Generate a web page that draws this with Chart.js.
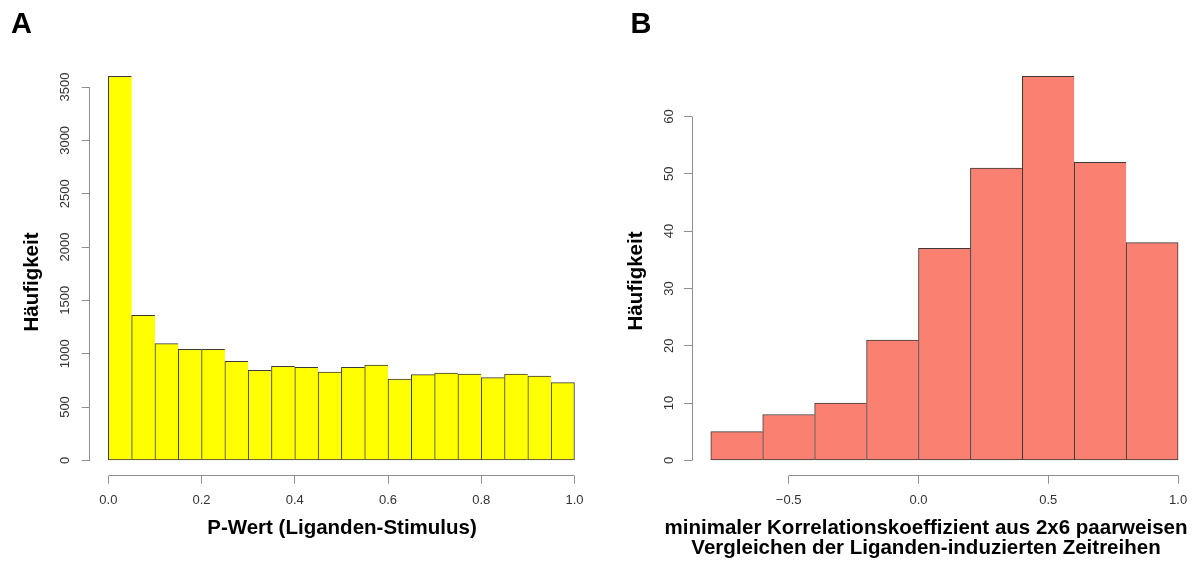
<!DOCTYPE html>
<html>
<head>
<meta charset="utf-8">
<script src="https://cdn.jsdelivr.net/npm/chart.js@4.4.1/dist/chart.umd.min.js"></script>
<style>
  html, body { margin: 0; padding: 0; background: #fff; overflow: hidden; }
  canvas { position: absolute; top: 0; }
</style>
</head>
<body>
<canvas id="chartA" width="600" height="563" style="left:0px"></canvas>
<canvas id="chartB" width="601" height="563" style="left:600px"></canvas>
<script>
// ---------------- DATA ----------------

// A: P-values, bins of width 0.05 (lower edges)
const pBinStarts = [0, 0.05, 0.1, 0.15, 0.2, 0.25, 0.3, 0.35, 0.4, 0.45,
                    0.5, 0.55, 0.6, 0.65, 0.7, 0.75, 0.8, 0.85, 0.9, 0.95];
const pCounts = [3600, 1360, 1095, 1040, 1040, 928, 843, 881, 872, 828,
                 872, 893, 762, 803, 818, 809, 775, 809, 790, 728];
const pXTicks = [0, 0.2, 0.4, 0.6, 0.8, 1.0];
const pYTicks = [0, 500, 1000, 1500, 2000, 2500, 3000, 3500];

// B: minimal correlation coefficients, bins of width 0.2 (lower edges)
const rBinStarts = [-0.8, -0.6, -0.4, -0.2, 0, 0.2, 0.4, 0.6, 0.8];
const rCounts = [5, 8, 10, 21, 37, 51, 67, 52, 38];
const rXTicks = [-0.5, 0, 0.5, 1.0];
const rYTicks = [0, 10, 20, 30, 40, 50, 60];

const FONT = "'Liberation Sans', Arial, Helvetica, sans-serif";
const AXIS_GREY = "#8e8e8e";
const TEXT_GREY = "#333333";

// ---------------- HELPERS ----------------

function fmtX(v) {
  const s = Math.abs(v).toFixed(1);
  return v < 0 ? "\u2212" + s : s;
}

function crisp(p) {
  return Math.round(p - 0.5) + 0.5;
}

// R-style axes: line only from first to last tick, rotated y labels,
// bold titles and the panel letter
const rAxes = {
  id: "rAxes",
  afterDraw(chart, args, o) {
    const c = chart.ctx;
    const xs = chart.scales.x;
    const ys = chart.scales.y;
    const area = chart.chartArea;

    c.save();
    c.strokeStyle = AXIS_GREY;
    c.lineWidth = 1;

    const xa = xs.getPixelForValue(xs.ticks[0].value);
    const xb = xs.getPixelForValue(xs.ticks[xs.ticks.length - 1].value);
    const yBottom = crisp(area.bottom);
    c.beginPath();
    c.moveTo(crisp(xa), yBottom);
    c.lineTo(crisp(xb), yBottom);
    c.stroke();

    const ya = ys.getPixelForValue(ys.ticks[0].value);
    const yb = ys.getPixelForValue(ys.ticks[ys.ticks.length - 1].value);
    const xLeft = crisp(area.left);
    c.beginPath();
    c.moveTo(xLeft, crisp(ya));
    c.lineTo(xLeft, crisp(yb));
    c.stroke();

    // tick labels
    c.fillStyle = TEXT_GREY;
    c.font = "13px " + FONT;
    c.textAlign = "center";
    c.textBaseline = "middle";
    xs.ticks.forEach(t => {
      c.fillText(fmtX(t.value), xs.getPixelForValue(t.value), o.xLabelY);
    });
    ys.ticks.forEach(t => {
      c.save();
      c.translate(area.left - o.yLabelGap, ys.getPixelForValue(t.value));
      c.rotate(-Math.PI / 2);
      c.fillText(String(t.value), 0, 0);
      c.restore();
    });

    // axis titles
    c.fillStyle = "#000";
    c.font = "bold 20.5px " + FONT;
    c.textBaseline = "alphabetic";
    o.xTitle.forEach((line, i) => {
      c.fillText(line, o.xTitleX, o.xTitleY + i * 20);
    });
    c.save();
    c.translate(o.yTitleX, o.yTitleY);
    c.rotate(-Math.PI / 2);
    c.fillText(o.yTitle, 0, 0);
    c.restore();

    // panel letter
    c.font = "bold 29px " + FONT;
    c.textAlign = "left";
    c.fillText(o.letter, o.letterX, 33);
    c.restore();
  }
};

function histChart(id, o) {
  const lo = o.binStarts[0];
  const hi = o.binStarts[o.binStarts.length - 1] + o.binWidth;
  const top = Math.max(...o.counts);
  const xPad = 0.04 * (hi - lo);
  const yPad = 0.04 * top;
  const last = o.counts.length - 1;

  return new Chart(document.getElementById(id), {
    type: "bar",
    data: {
      datasets: [{
        data: o.binStarts.map((b, i) => ({ x: b + o.binWidth / 2, y: o.counts[i] })),
        backgroundColor: o.fill,
        borderColor: "#3a3a3a",
        borderWidth: ctx => ({ top: 1, left: 1, bottom: 1, right: ctx.dataIndex === last ? 1 : 0 }),
        borderSkipped: false,
        barPercentage: 1,
        categoryPercentage: 1
      }]
    },
    options: {
      responsive: false,
      animation: false,
      events: [],
      layout: { padding: { top: 61, right: o.rightPad, left: 0, bottom: 0 } },
      plugins: {
        legend: { display: false },
        tooltip: { enabled: false },
        rAxes: o.axes
      },
      scales: {
        x: {
          type: "linear",
          min: lo - xPad,
          max: hi + xPad,
          offset: false,
          afterBuildTicks: s => { s.ticks = o.xTicks.map(v => ({ value: v })); },
          afterFit: s => { s.height = 87.3; },
          ticks: { display: false },
          grid: { display: true, offset: false, drawOnChartArea: false, drawTicks: true, tickLength: 8, color: AXIS_GREY },
          border: { display: false }
        },
        y: {
          type: "linear",
          min: -yPad,
          max: top + yPad,
          afterBuildTicks: s => { s.ticks = o.yTicks.map(v => ({ value: v })); },
          afterFit: s => { s.width = o.leftSpace; },
          ticks: { display: false },
          grid: { display: true, drawOnChartArea: false, drawTicks: true, tickLength: 8, color: AXIS_GREY },
          border: { display: false }
        }
      }
    },
    plugins: [rAxes]
  });
}

// ---------------- CHARTS ----------------

histChart("chartA", {
  binStarts: pBinStarts,
  binWidth: 0.05,
  counts: pCounts,
  xTicks: pXTicks,
  yTicks: pYTicks,
  fill: "#ffff00",
  leftSpace: 89.7,
  rightPad: 6.9,
  axes: {
    letter: "A", letterX: 11,
    xTitle: ["P-Wert (Liganden-Stimulus)"], xTitleX: 342, xTitleY: 534,
    yTitle: "Häufigkeit", yTitleX: 38.3, yTitleY: 282,
    xLabelY: 500, yLabelGap: 24
  }
});

histChart("chartB", {
  binStarts: rBinStarts,
  binWidth: 0.2,
  counts: rCounts,
  xTicks: rXTicks,
  yTicks: rYTicks,
  fill: "#fa8072",
  leftSpace: 92.1,
  rightPad: 4.2,
  axes: {
    letter: "B", letterX: 30.5,
    xTitle: ["minimaler Korrelationskoeffizient aus 2x6 paarweisen",
             "Vergleichen der Liganden-induzierten Zeitreihen"],
    xTitleX: 326, xTitleY: 534,
    yTitle: "Häufigkeit", yTitleX: 42, yTitleY: 281,
    xLabelY: 500, yLabelGap: 22.5
  }
});
</script>
</body>
</html>
